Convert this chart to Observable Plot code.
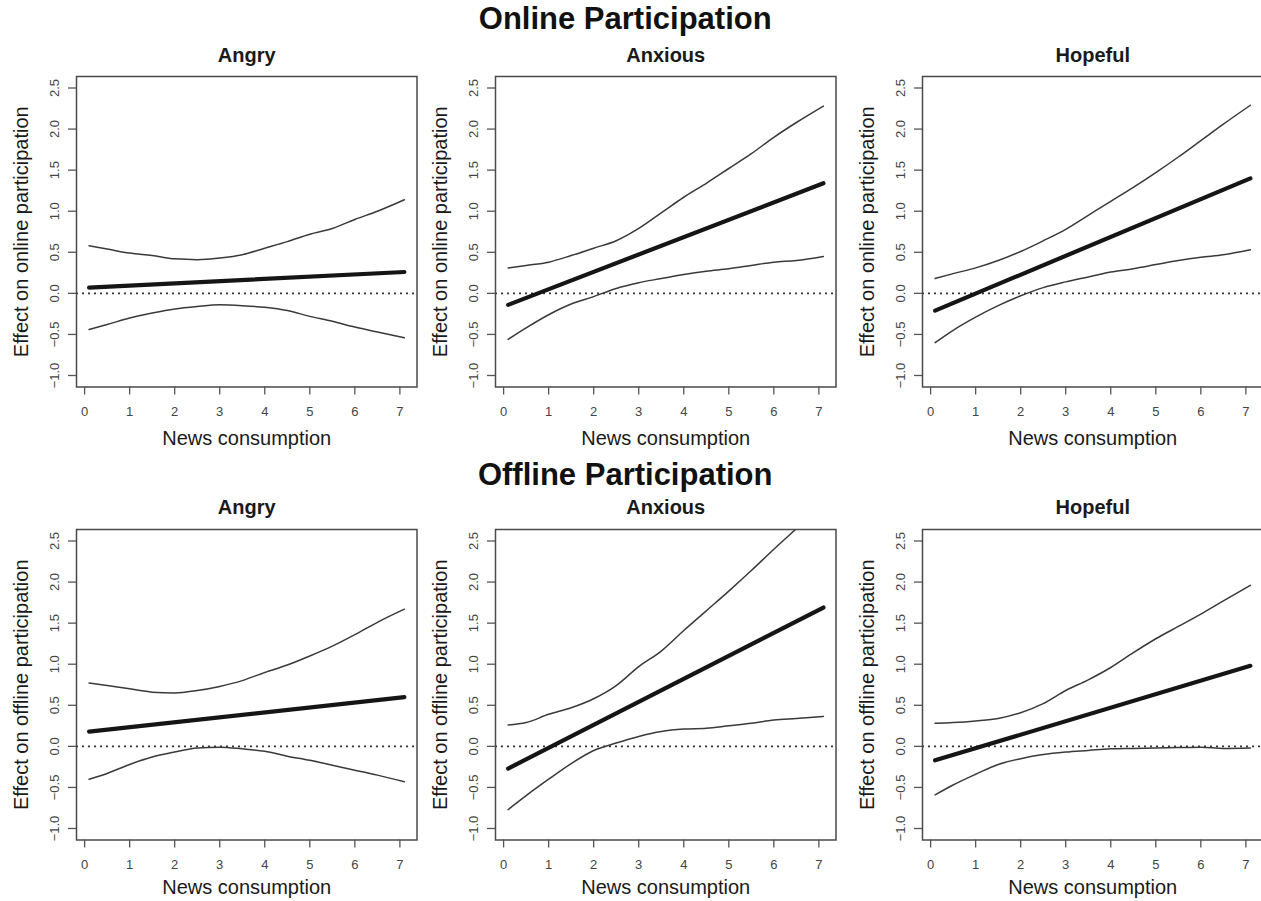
<!DOCTYPE html>
<html><head><meta charset="utf-8">
<script src="https://cdn.jsdelivr.net/npm/d3@7"></script>
<script src="https://cdn.jsdelivr.net/npm/@observablehq/plot@0.6"></script>
<style>
html,body{margin:0;padding:0;background:#fff;overflow:hidden}
#wrap{position:relative;width:1261px;height:901px;overflow:hidden;background:#fff}
.panel{position:absolute}
.panel svg{overflow:visible;max-width:none}
</style></head><body><div id="wrap"></div>
<script>
// ---- data ----
const xs = [0.1, 0.5, 1, 1.5, 2, 2.5, 3, 3.5, 4, 4.5, 5, 5.5, 6, 6.5, 7.1];
const xEnds = [0.1, 7.1];
const emotions = ["Angry", "Anxious", "Hopeful"];
const rowTitles = ["Online Participation", "Offline Participation"];
const yLabels = ["Effect on online participation", "Effect on offline participation"];
const xLabel = "News consumption";
const xTicks = [0, 1, 2, 3, 4, 5, 6, 7];
const yTicks = [-1, -0.5, 0, 0.5, 1, 1.5, 2, 2.5];

const onlineAngryUpper = [0.58, 0.54, 0.49, 0.46, 0.42, 0.41, 0.43, 0.47, 0.55, 0.63, 0.72, 0.79, 0.90, 1.00, 1.14];
const onlineAngryLower = [-0.44, -0.38, -0.30, -0.24, -0.19, -0.16, -0.14, -0.15, -0.17, -0.21, -0.28, -0.34, -0.41, -0.47, -0.54];
const onlineAngryMean = [0.07, 0.26];

const onlineAnxiousUpper = [0.31, 0.34, 0.38, 0.46, 0.55, 0.64, 0.79, 0.98, 1.17, 1.34, 1.52, 1.70, 1.90, 2.08, 2.28];
const onlineAnxiousLower = [-0.56, -0.42, -0.26, -0.13, -0.04, 0.06, 0.13, 0.18, 0.23, 0.27, 0.30, 0.34, 0.38, 0.40, 0.45];
const onlineAnxiousMean = [-0.14, 1.34];

const onlineHopefulUpper = [0.18, 0.24, 0.31, 0.40, 0.51, 0.64, 0.78, 0.95, 1.12, 1.29, 1.47, 1.66, 1.86, 2.06, 2.29];
const onlineHopefulLower = [-0.60, -0.45, -0.29, -0.15, -0.03, 0.07, 0.14, 0.20, 0.26, 0.30, 0.35, 0.40, 0.44, 0.47, 0.53];
const onlineHopefulMean = [-0.21, 1.40];

const offlineAngryUpper = [0.77, 0.74, 0.70, 0.66, 0.65, 0.68, 0.73, 0.80, 0.90, 0.99, 1.10, 1.22, 1.36, 1.51, 1.67];
const offlineAngryLower = [-0.40, -0.33, -0.22, -0.13, -0.07, -0.02, -0.01, -0.03, -0.06, -0.12, -0.17, -0.23, -0.29, -0.35, -0.43];
const offlineAngryMean = [0.18, 0.60];

const offlineAnxiousUpper = [0.26, 0.29, 0.39, 0.47, 0.58, 0.74, 0.97, 1.16, 1.41, 1.65, 1.89, 2.14, 2.40, 2.65, 2.95];
const offlineAnxiousLower = [-0.77, -0.60, -0.40, -0.21, -0.05, 0.04, 0.12, 0.18, 0.21, 0.22, 0.25, 0.28, 0.32, 0.34, 0.365];
const offlineAnxiousMean = [-0.27, 1.69];

const offlineHopefulUpper = [0.28, 0.29, 0.31, 0.34, 0.41, 0.52, 0.68, 0.81, 0.96, 1.14, 1.31, 1.46, 1.61, 1.77, 1.96];
const offlineHopefulLower = [-0.59, -0.47, -0.34, -0.22, -0.15, -0.10, -0.07, -0.05, -0.03, -0.025, -0.02, -0.015, -0.01, -0.025, -0.02];
const offlineHopefulMean = [-0.17, 0.98];

const panels = [
  [[onlineAngryUpper, onlineAngryLower, onlineAngryMean],
   [onlineAnxiousUpper, onlineAnxiousLower, onlineAnxiousMean],
   [onlineHopefulUpper, onlineHopefulLower, onlineHopefulMean]],
  [[offlineAngryUpper, offlineAngryLower, offlineAngryMean],
   [offlineAnxiousUpper, offlineAnxiousLower, offlineAnxiousMean],
   [offlineHopefulUpper, offlineHopefulLower, offlineHopefulMean]]
];

// ---- layout ----
const FONT = "'Liberation Sans', Arial, Helvetica, sans-serif";
const frameLefts = [76, 495.3, 922.3];
const frameTops = [76, 529];
const frameW = 340.5, frameH = 310.5;
const mL = 76, mR = 4.5, mT = 40, mB = 62;
const xLabelDy = [52, 47.5];
const titleDy = [-21, -21.5];
const mainTitleY = [19, 475];
const fmt = d3.format(".1f");

const wrap = document.getElementById("wrap");

for (let r = 0; r < 2; r++) {
  for (let c = 0; c < 3; c++) {
    const [up, lo, mean] = panels[r][c];
    const upData = xs.map((x, i) => ({x, y: up[i]}));
    const loData = xs.map((x, i) => ({x, y: lo[i]}));
    const meanData = xEnds.map((x, i) => ({x, y: mean[i]}));
    const marks = [
      Plot.ruleY([0], {stroke: "#333", strokeWidth: 1.6, strokeDasharray: "2,4"}),
      Plot.line(upData, {x: "x", y: "y", stroke: "#3a3a3a", strokeWidth: 1.5, curve: "monotone-x", clip: true}),
      Plot.line(loData, {x: "x", y: "y", stroke: "#3a3a3a", strokeWidth: 1.5, curve: "monotone-x", clip: true}),
      Plot.line(meanData, {x: "x", y: "y", stroke: "#151515", strokeWidth: 4.2, strokeLinecap: "round"}),
      Plot.frame({stroke: "#4a4a4a", strokeWidth: 1.5}),
      Plot.axisX(xTicks, {tickSize: 8, tickFormat: () => "", stroke: "#555", strokeWidth: 1.3, label: null}),
      Plot.axisY(yTicks, {tickSize: 8, tickFormat: () => "", stroke: "#555", strokeWidth: 1.3, label: null}),
      Plot.text(xTicks, {x: d => d, text: d => String(d), frameAnchor: "bottom", lineAnchor: "middle", dy: 24.5, fontSize: 13, fill: "#444"}),
      Plot.text(yTicks, {y: d => d, text: d => fmt(d), frameAnchor: "left", textAnchor: "middle", lineAnchor: "middle", rotate: -90, dx: -22, fontSize: 13, fill: "#444"}),
      Plot.text([emotions[c]], {frameAnchor: "top", lineAnchor: "middle", dy: titleDy[r], fontSize: 20, fontWeight: "bold", fill: "#1a1a1a"}),
      Plot.text([xLabel], {frameAnchor: "bottom", lineAnchor: "middle", dy: xLabelDy[r], fontSize: 20, fill: "#1a1a1a"}),
      Plot.text([yLabels[r]], {frameAnchor: "left", textAnchor: "middle", lineAnchor: "middle", dx: -55, rotate: -90, fontSize: 20, fill: "#1a1a1a"})
    ];
    if (c === 1) {
      const midX = frameLefts[1] + frameW / 2;
      const dy = mainTitleY[r] - frameTops[r];
      marks.push(Plot.text([rowTitles[r]], {frameAnchor: "top", lineAnchor: "middle", dx: 625 - midX, dy, fontSize: 31, fontWeight: "bold", fill: "#111"}));
    }
    const svg = Plot.plot({
      width: mL + frameW + mR,
      height: mT + frameH + mB,
      marginLeft: mL, marginRight: mR, marginTop: mT, marginBottom: mB,
      x: {domain: [-0.18, 7.38]},
      y: {domain: [-1.14, 2.64]},
      style: {fontFamily: FONT, fontSize: "12px", background: "transparent", overflow: "visible"},
      marks
    });
    const div = document.createElement("div");
    div.className = "panel";
    div.style.left = (frameLefts[c] - mL) + "px";
    div.style.top = (frameTops[r] - mT) + "px";
    div.style.width = (mL + frameW + mR) + "px";
    div.appendChild(svg);
    wrap.appendChild(div);
  }
}
</script></body></html>
